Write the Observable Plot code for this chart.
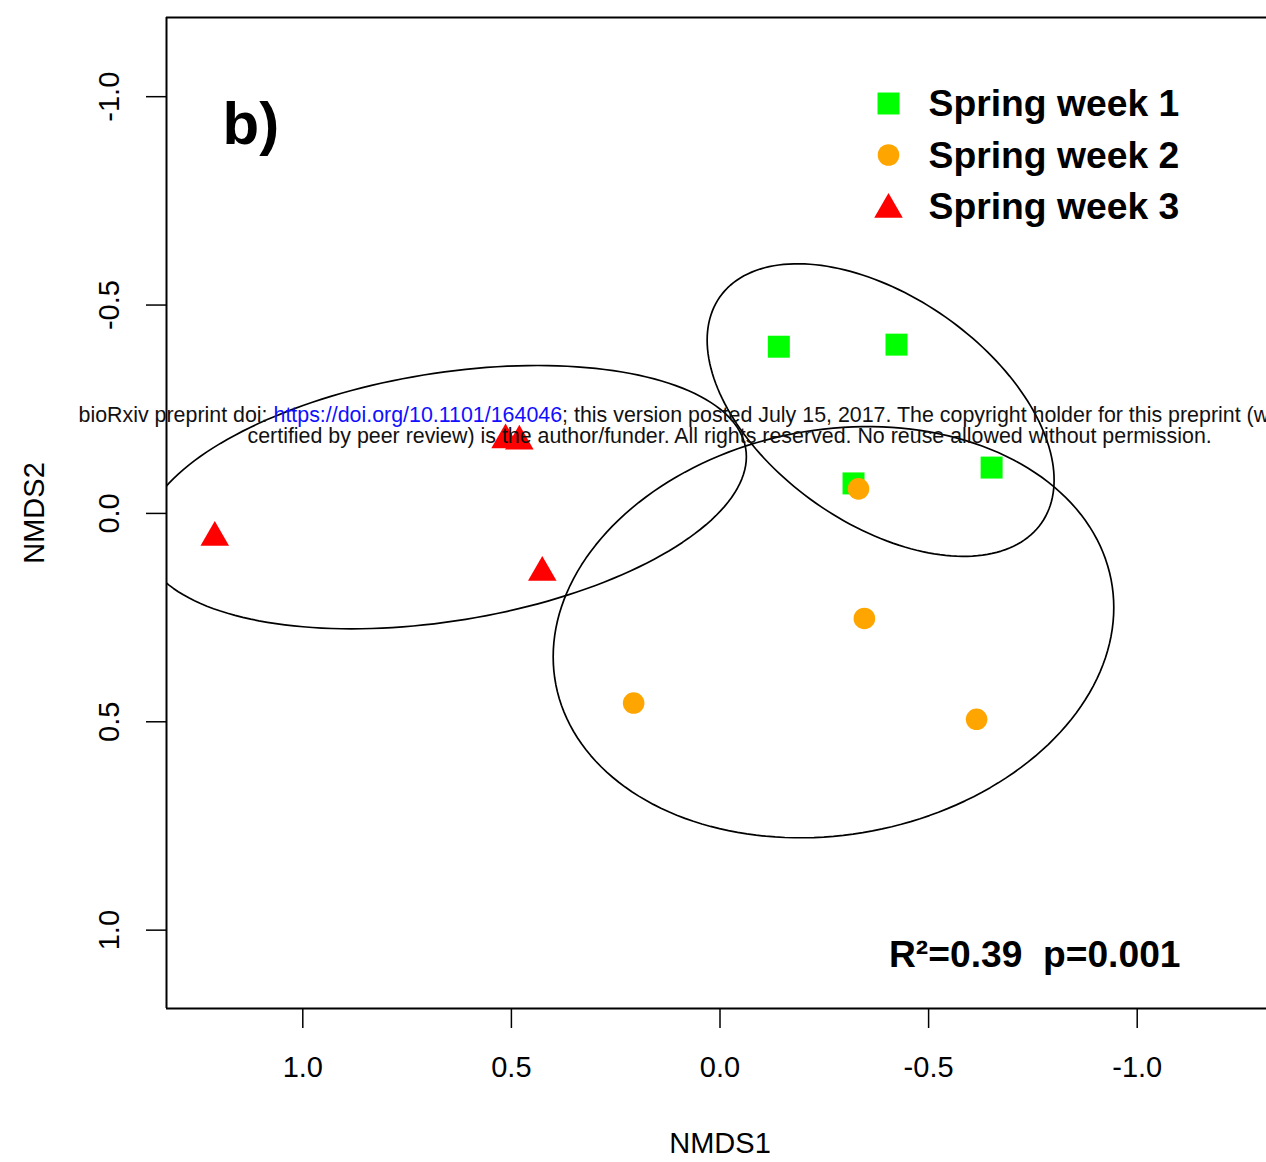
<!DOCTYPE html>
<html>
<head>
<meta charset="utf-8">
<script src="https://cdn.jsdelivr.net/npm/d3@7"></script>
<script src="https://cdn.jsdelivr.net/npm/@observablehq/plot@0.6"></script>
<style>
  html, body { margin: 0; padding: 0; background: #fff; overflow: hidden; }
  #chart svg { display: block; }
</style>
</head>
<body>
<div id="chart"></div>
<script>
// ---------- data ----------
const groups = ["Spring week 1", "Spring week 2", "Spring week 3"];
const groupColors = ["#00ff00", "#ffa500", "#ff0000"];
const groupSymbols = ["square", "circle", "triangle"];
const groupRadius = [12.4, 10.8, 10.6];

// samples (group index, NMDS1, NMDS2)
const sampleGroup = [0, 0, 0, 0, 1, 1, 1, 1, 2, 2, 2, 2];
const nmds1 = [-0.141, -0.423, -0.320, -0.651, -0.332, -0.346, 0.207, -0.615, 1.211, 0.514, 0.481, 0.426];
const nmds2 = [-0.400, -0.405, -0.072, -0.110, -0.059, 0.252, 0.455, 0.494, 0.058, -0.176, -0.173, 0.142];

// group ellipses: centre and (co)variance, in NMDS units
const ellCx = [-0.385, -0.272, 0.660];
const ellCy = [-0.248, 0.285, -0.039];
const ellVarX = [0.1729, 0.4514, 0.5230];
const ellVarY = [0.1232, 0.2434, 0.0998];
const ellCov = [-0.0698, 0.0397, 0.0702];

const xTicks = [1.0, 0.5, 0.0, -0.5, -1.0];
const yTicks = [-1.0, -0.5, 0.0, 0.5, 1.0];
const xDomain = [1.3267, -1.3099];
const yDomain = [1.188, -1.190];

const xTitle = "NMDS1";
const yTitle = "NMDS2";
const panelLabel = "b)";
const statsLabel = "R\u00b2=0.39  p=0.001";
const wmPartA = "bioRxiv preprint doi: ";
const wmLink = "https://doi.org/10.1101/164046";
const wmPartC = "; this version posted July 15, 2017. The copyright holder for this preprint (w";
const wmLine2 = "certified by peer review) is the author/funder. All rights reserved. No reuse allowed without permission.";

// ---------- build ----------
const font = '"Liberation Sans", Arial, Helvetica, sans-serif';
const points = nmds1.map((v, i) => ({x: v, y: nmds2[i], g: sampleGroup[i]}));

const ellipsePts = [];
groups.forEach((g, k) => {
  const l11 = Math.sqrt(ellVarX[k]);
  const l21 = ellCov[k] / l11;
  const l22 = Math.sqrt(ellVarY[k] - l21 * l21);
  for (let a = 0; a <= 360; a += 2) {
    const t = a * Math.PI / 180;
    ellipsePts.push({g, x: ellCx[k] + l11 * Math.cos(t), y: ellCy[k] + l21 * Math.cos(t) + l22 * Math.sin(t)});
  }
});

const wmSize = 21.4;
const ctx = document.createElement("canvas").getContext("2d");
ctx.font = `${wmSize}px "Liberation Sans"`;
const wmStart = -88;
const wA = ctx.measureText(wmPartA).width;
const wL = ctx.measureText(wmLink).width;

const marks = [];
// frame (left, top, bottom; right side lies outside the picture)
marks.push(Plot.ruleY([yDomain[0], yDomain[1]], {stroke: "black", strokeWidth: 2}));
marks.push(Plot.ruleX([xDomain[0]], {stroke: "black", strokeWidth: 2}));
// axes
marks.push(Plot.axisX({ticks: xTicks, tickFormat: d => d.toFixed(1), tickSize: 20, tickPadding: 28, fontSize: 29, label: null, strokeWidth: 1.5}));
marks.push(Plot.axisY({ticks: yTicks, tickFormat: () => "", tickSize: 20, label: null, strokeWidth: 1.5}));
marks.push(Plot.text(yTicks, {y: d => d, frameAnchor: "left", dx: -48, rotate: -90, text: d => d.toFixed(1), textAnchor: "middle", lineAnchor: "bottom", fontSize: 29}));
marks.push(Plot.text([xTitle], {frameAnchor: "bottom", dx: 3.5, dy: 144, lineAnchor: "bottom", textAnchor: "middle", fontSize: 29}));
marks.push(Plot.text([yTitle], {frameAnchor: "left", dx: -123, rotate: -90, lineAnchor: "bottom", textAnchor: "middle", fontSize: 29}));
// points
groups.forEach((g, k) => {
  marks.push(Plot.dot(points.filter(p => p.g === k), {x: "x", y: "y", symbol: groupSymbols[k], fill: groupColors[k], r: groupRadius[k]}));
});
// ellipses
marks.push(Plot.line(ellipsePts, {x: "x", y: "y", z: "g", stroke: "black", strokeWidth: 1.7, clip: true}));
// panel label and statistics
marks.push(Plot.text([panelLabel], {frameAnchor: "top-left", dx: 56, dy: 126, textAnchor: "start", lineAnchor: "bottom", fontSize: 60, fontWeight: "bold"}));
marks.push(Plot.text([statsLabel], {frameAnchor: "top-left", dx: 1014, dy: 949, textAnchor: "end", lineAnchor: "bottom", fontSize: 37.2, fontWeight: "bold"}));
// legend
groups.forEach((g, k) => {
  marks.push(Plot.dot([g], {frameAnchor: "top-left", dx: 722, dy: 86 + 51.5 * k + (k === 2 ? 3 : 0), symbol: groupSymbols[k], fill: groupColors[k], r: groupRadius[k]}));
  marks.push(Plot.text([g], {frameAnchor: "top-left", dx: 762, dy: 98.5 + 51.5 * k, textAnchor: "start", lineAnchor: "bottom", fontSize: 37.3, fontWeight: "bold"}));
});
// bioRxiv watermark
marks.push(Plot.text([wmPartA], {frameAnchor: "top-left", dx: wmStart, dy: 404, textAnchor: "start", lineAnchor: "bottom", fontSize: wmSize, fill: "#111"}));
marks.push(Plot.text([wmLink], {frameAnchor: "top-left", dx: wmStart + wA, dy: 404, textAnchor: "start", lineAnchor: "bottom", fontSize: wmSize, fill: "#1010ff"}));
marks.push(Plot.text([wmPartC], {frameAnchor: "top-left", dx: wmStart + wA + wL, dy: 404, textAnchor: "start", lineAnchor: "bottom", fontSize: wmSize, fill: "#111"}));
marks.push(Plot.text([wmLine2], {frameAnchor: "top-left", dx: 81, dy: 425, textAnchor: "start", lineAnchor: "bottom", fontSize: wmSize, fill: "#111"}));

const chart = Plot.plot({
  width: 1266,
  height: 1162,
  marginLeft: 166,
  marginRight: 0,
  marginTop: 17,
  marginBottom: 154,
  x: {domain: xDomain},
  y: {domain: yDomain},
  style: {fontFamily: font, fontSize: "29px", background: "white", color: "black"},
  marks
});
document.getElementById("chart").appendChild(chart);
</script>
</body>
</html>
